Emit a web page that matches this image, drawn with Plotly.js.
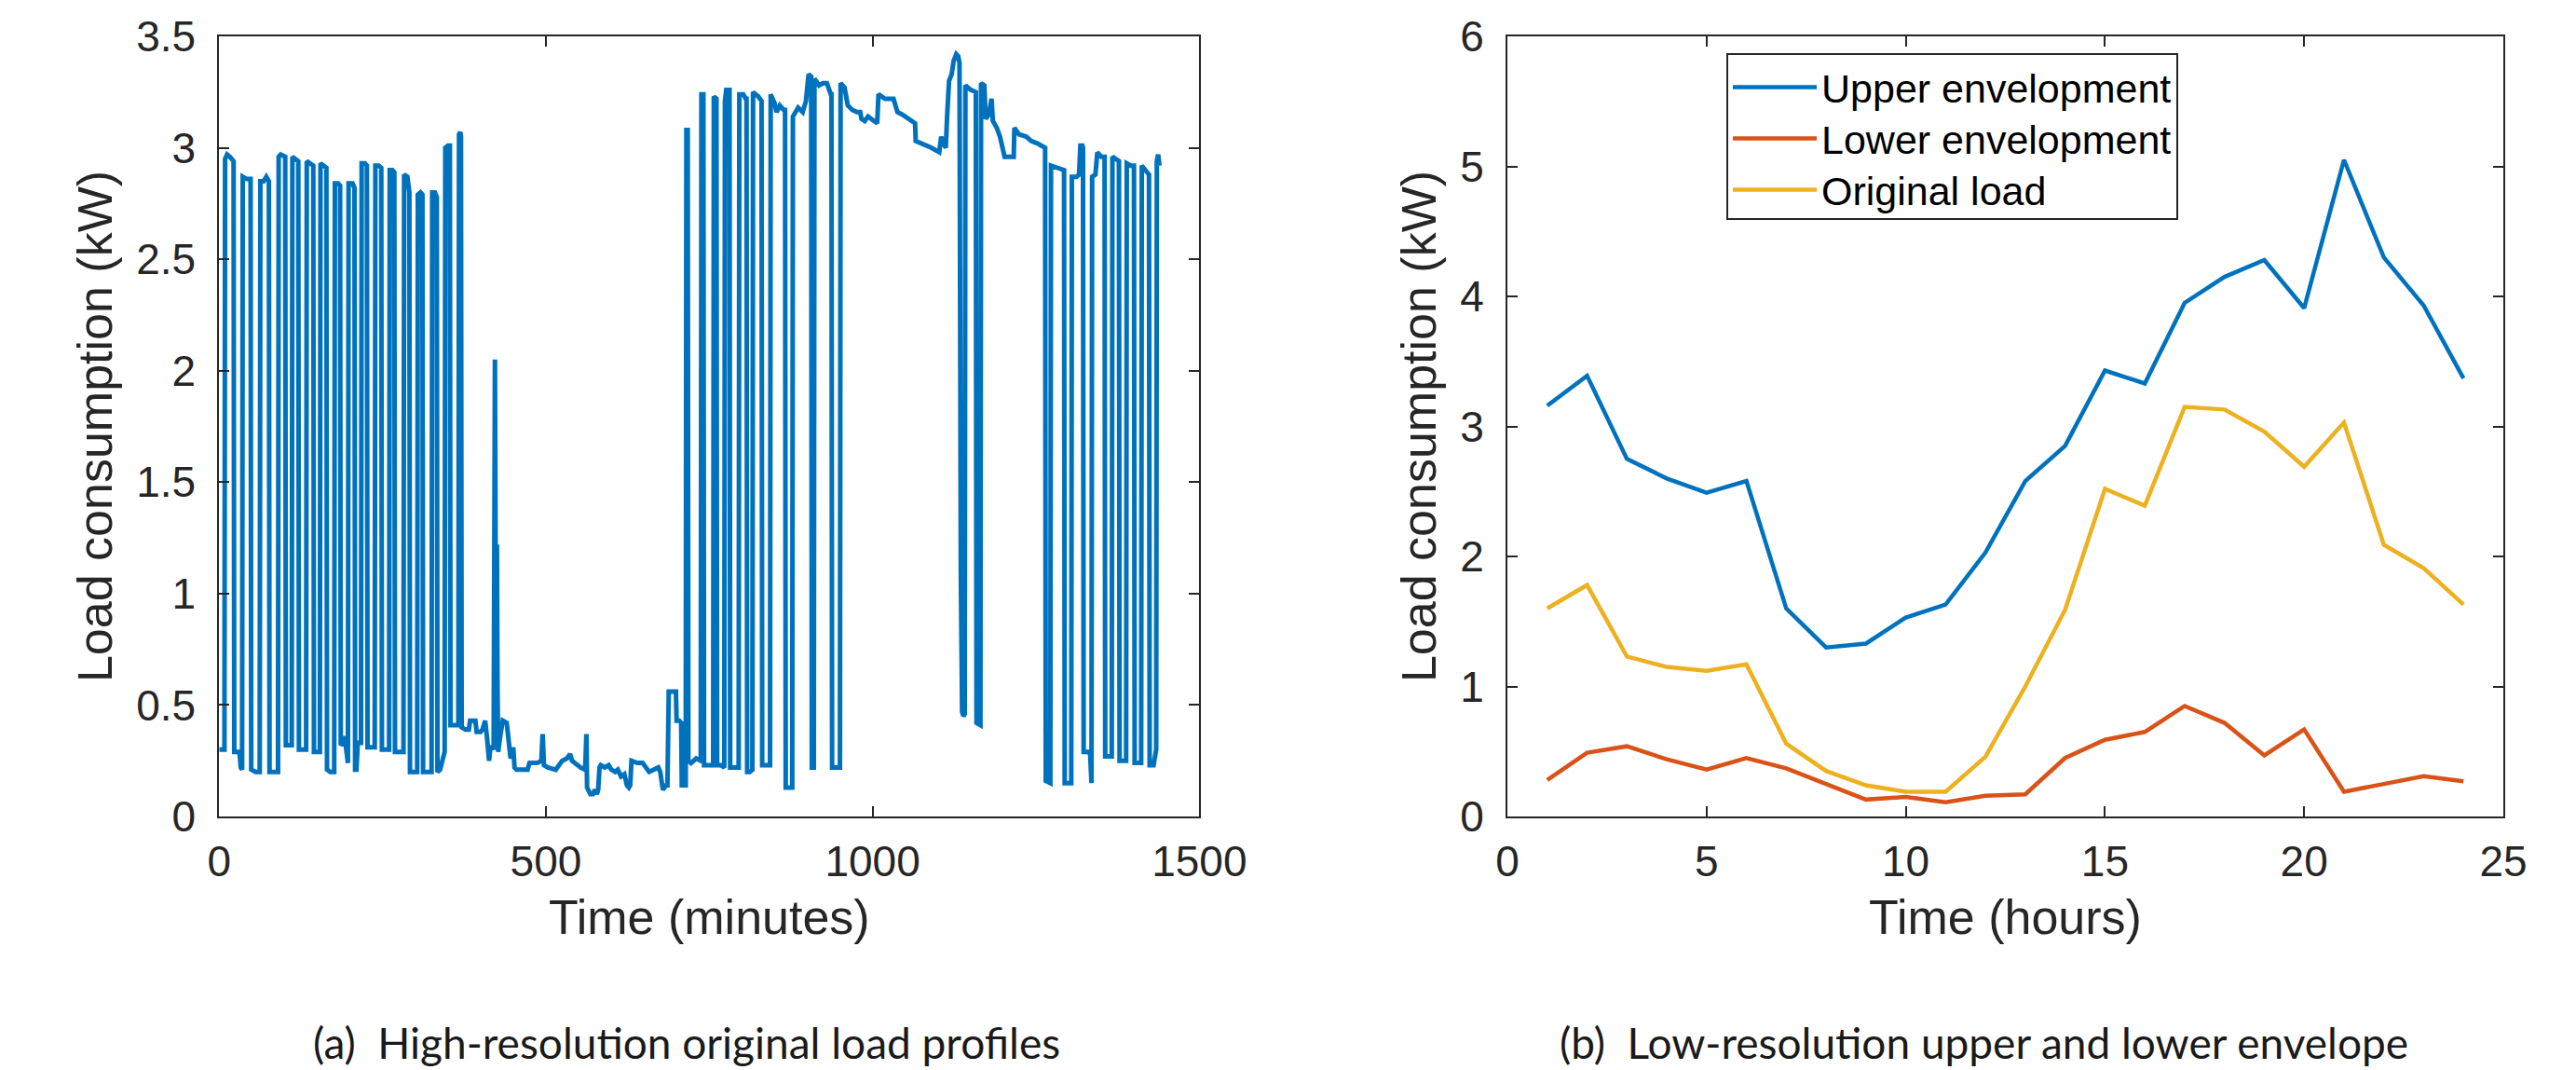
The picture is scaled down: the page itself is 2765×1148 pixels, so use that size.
<!DOCTYPE html>
<html>
<head>
<meta charset="utf-8">
<script src="https://cdn.plot.ly/plotly-3.0.1.min.js"></script>
<style>
  html, body { margin: 0; padding: 0; background: #ffffff; }
  #chart { width: 2765px; height: 1148px; }
</style>
</head>
<body>
<div id="chart"></div>
<script>
// ---------- (a) high-resolution load profile: minute / kW pairs ----------
const loadMinutes = [
  0, 8, 9, 12, 16, 22, 23, 31, 33, 35, 36, 42, 48, 49, 56, 62, 63, 68, 72, 76, 77, 84, 90, 91, 94, 101,
  102, 107, 111, 112, 118, 121, 122, 128, 133, 134, 140, 144, 145, 150, 154, 155, 160, 164, 165, 170, 176,
  177, 182, 185, 186, 190, 192, 194, 196, 197, 198, 204, 207, 208, 210, 212, 217, 218, 223, 226, 227, 233,
  238, 239, 244, 248, 249, 255, 260, 261, 265, 268, 269, 275, 282, 283, 288, 291, 292, 298, 303, 304, 308,
  311, 312, 318, 325, 326, 330, 333, 334, 338, 342, 345, 346, 350, 353, 354, 360, 366, 367, 369, 370, 371,
  377, 382, 384, 392, 394, 400, 403, 407, 410, 413, 415, 418, 420, 421, 422, 423, 425, 426, 427, 430, 434,
  440, 443, 446, 450, 452, 455, 463, 472, 475, 487, 493, 495, 497, 503, 515, 525, 532, 537, 540, 544, 553,
  560, 561, 562, 563, 565, 568, 572, 575, 578, 580, 582, 584, 590, 596, 600, 606, 610, 615, 620, 624, 627,
  629, 631, 640, 648, 652, 658, 665, 672, 675, 677, 679, 684, 686, 688, 696, 699, 700, 704, 707, 708, 712,
  714, 715, 717, 718, 722, 730, 737, 738, 741, 742, 750, 756, 757, 761, 762, 768, 773, 774, 776, 781, 782,
  786, 795, 796, 802, 806, 807, 808, 812, 816, 817, 825, 830, 831, 838, 843, 844, 850, 853, 858, 864, 866,
  867, 872, 877, 878, 886, 893, 898, 902, 906, 907, 910, 911, 918, 924, 930, 936, 937, 938, 944, 950, 951,
  957, 962, 969, 976, 981, 983, 988, 993, 998, 1007, 1009, 1019, 1032, 1038, 1045, 1050, 1057, 1065, 1066,
  1075, 1081, 1090, 1102, 1105, 1108, 1112, 1114, 1117, 1121, 1124, 1128, 1131, 1133, 1134, 1135, 1137,
  1139, 1141, 1142, 1150, 1157, 1158, 1159, 1165, 1166, 1171, 1173, 1178, 1182, 1184, 1190, 1195, 1202,
  1210, 1216, 1217, 1224, 1235, 1243, 1252, 1258, 1264, 1265, 1270, 1272, 1273, 1282, 1290, 1293, 1294,
  1300, 1304, 1305, 1312, 1316, 1318, 1321, 1322, 1323, 1330, 1333, 1335, 1336, 1341, 1344, 1350, 1355,
  1356, 1362, 1366, 1367, 1372, 1377, 1378, 1383, 1388, 1389, 1395, 1400, 1401, 1406, 1411, 1412, 1418,
  1423, 1424, 1430, 1434, 1435, 1437, 1439
];
const loadKW = [
  0.30, 0.30, 2.95, 2.97, 2.96, 2.94, 0.29, 0.29, 0.22, 0.21, 2.87, 2.86, 2.86, 0.21, 0.20, 0.20, 2.85, 2.85, 2.87, 2.85, 0.20, 0.20, 0.20, 2.96, 2.97, 2.96,
  0.32, 0.32, 0.32, 2.96, 2.95, 2.94, 0.30, 0.30, 0.30, 2.94, 2.93, 2.92, 0.29, 0.29, 0.29, 2.93, 2.92, 2.91, 0.21, 0.20, 0.20,
  2.84, 2.84, 2.83, 0.32, 0.33, 0.36, 0.30, 0.26, 0.24, 2.84, 2.84, 2.82, 0.21, 0.21, 0.33, 0.33, 2.93, 2.93, 2.92, 0.31, 0.31,
  0.31, 2.92, 2.92, 2.91, 0.30, 0.30, 0.30, 2.90, 2.90, 2.89, 0.29, 0.29, 0.29, 2.88, 2.87, 2.80, 0.20, 0.20, 0.20, 2.79, 2.80,
  2.79, 0.20, 0.20, 0.20, 2.80, 2.80, 2.78, 0.20, 0.21, 0.26, 0.29, 3.00, 3.01, 3.01, 0.41, 0.41, 0.41, 3.06, 3.07, 3.05, 0.40,
  0.39, 0.39, 0.43, 0.43, 0.38, 0.38, 0.39, 0.43, 0.35, 0.25, 0.31, 0.31, 0.30, 2.05, 2.05, 1.21, 1.21, 0.55, 0.29, 0.36, 0.43,
  0.42, 0.31, 0.26, 0.31, 0.22, 0.21, 0.21, 0.21, 0.24, 0.24, 0.25, 0.37, 0.23, 0.22, 0.21, 0.25, 0.26, 0.28, 0.25, 0.24, 0.22,
  0.21, 0.37, 0.37, 0.13, 0.12, 0.10, 0.10, 0.12, 0.10, 0.12, 0.22, 0.23, 0.22, 0.23, 0.21, 0.20, 0.21, 0.18, 0.19, 0.14, 0.13,
  0.14, 0.25, 0.24, 0.24, 0.22, 0.20, 0.21, 0.22, 0.20, 0.14, 0.12, 0.14, 0.14, 0.56, 0.56, 0.56, 0.43, 0.43, 0.42, 0.14, 0.14,
  0.14, 3.08, 3.08, 0.25, 0.24, 0.26, 0.25, 3.24, 3.24, 0.23, 0.23, 0.23, 3.23, 3.22, 0.23, 0.23, 0.22, 3.21, 3.26, 3.26, 0.22,
  0.22, 0.22, 3.24, 3.24, 3.22, 3.22, 0.20, 0.20, 0.21, 3.25, 3.23, 3.21, 0.23, 0.23, 0.23, 3.24, 3.20, 3.16, 3.19, 3.17, 3.17,
  0.13, 0.13, 0.13, 3.14, 3.18, 3.16, 3.21, 3.33, 3.32, 0.22, 0.22, 3.31, 3.28, 3.29, 3.29, 3.24, 3.24, 0.22, 0.22, 0.22, 3.29,
  3.27, 3.19, 3.17, 3.16, 3.16, 3.13, 3.12, 3.14, 3.13, 3.11, 3.24, 3.22, 3.22, 3.16, 3.15, 3.14, 3.12, 3.11, 3.03,
  3.02, 3.01, 3.00, 2.98, 3.05, 3.02, 3.00, 3.14, 3.30, 3.33, 3.39, 3.42, 3.41, 3.38, 1.13, 1.10, 0.47,
  0.45, 0.46, 3.28, 3.26, 3.25, 3.25, 0.42, 0.41, 3.29, 3.28, 3.13, 3.15, 3.22, 3.12, 3.09, 3.05, 2.96,
  2.96, 2.96, 3.09, 3.06, 3.05, 3.03, 3.02, 3.01, 3.00, 0.16, 0.15, 0.15, 2.92, 2.91, 2.90, 2.90, 0.15,
  0.15, 0.15, 2.87, 2.87, 2.88, 3.01, 3.01, 3.00, 0.29, 0.29, 0.28, 0.15, 2.87, 2.88, 2.98, 2.96, 2.96,
  0.27, 0.27, 0.27, 2.96, 2.95, 2.94, 0.25, 0.25, 0.25, 2.93, 2.92, 2.92, 0.24, 0.24, 0.24, 2.92, 2.90,
  2.88, 0.23, 0.23, 0.30, 2.94, 2.97, 2.92
];

// ---------- (b) hourly envelopes ----------
const hours = [1, 2, 3, 4, 5, 6, 7, 8, 9, 10, 11, 12, 13, 14, 15, 16, 17, 18, 19, 20, 21, 22, 23, 24];
const upperEnvelope = [3.16, 3.39, 2.75, 2.60, 2.49, 2.58, 1.60, 1.30, 1.33, 1.53, 1.63, 2.03, 2.58, 2.85, 3.43, 3.33, 3.95, 4.15, 4.28, 3.91, 5.05, 4.30, 3.93, 3.37];
const lowerEnvelope = [0.28, 0.49, 0.54, 0.44, 0.36, 0.45, 0.37, 0.25, 0.13, 0.15, 0.11, 0.16, 0.17, 0.45, 0.59, 0.65, 0.85, 0.72, 0.47, 0.67, 0.19, 0.25, 0.31, 0.27];
const originalLoad = [1.60, 1.78, 1.23, 1.15, 1.12, 1.17, 0.56, 0.35, 0.24, 0.19, 0.19, 0.46, 1.00, 1.59, 2.52, 2.39, 3.15, 3.13, 2.96, 2.69, 3.03, 2.09, 1.91, 1.63];

const seriesNames = ['Upper envelopment', 'Lower envelopment', 'Original load'];
const xTitleA = 'Time (minutes)';
const xTitleB = 'Time (hours)';
const yTitle = 'Load consumption (kW)';
const captionA = '(a)\u00a0\u00a0High-resolution original load profiles';
const captionB = '(b)\u00a0\u00a0Low-resolution upper and lower envelope';

// ---------- styling ----------
const W = 2765, H = 1148;
const AX = '#262626';
const FONT = 'Liberation Sans, Arial, Helvetica, sans-serif';
const TICK_SIZE = 46, TITLE_SIZE = 52;

function axisBase() {
  return {
    showline: true, linecolor: AX, linewidth: 2, mirror: 'ticks',
    ticks: 'inside', ticklen: 11, tickwidth: 2, tickcolor: AX,
    showgrid: false, zeroline: false, automargin: false,
    tickfont: { family: FONT, size: TICK_SIZE, color: AX }
  };
}

const traces = [
  { x: loadMinutes, y: loadKW, type: 'scatter', mode: 'lines', xaxis: 'x', yaxis: 'y',
    line: { color: '#0072BD', width: 5 }, showlegend: false, hoverinfo: 'x+y' },
  { x: hours, y: upperEnvelope, type: 'scatter', mode: 'lines', name: seriesNames[0], xaxis: 'x2', yaxis: 'y2',
    line: { color: '#0072BD', width: 4.5 } },
  { x: hours, y: lowerEnvelope, type: 'scatter', mode: 'lines', name: seriesNames[1], xaxis: 'x2', yaxis: 'y2',
    line: { color: '#D95319', width: 4.5 } },
  { x: hours, y: originalLoad, type: 'scatter', mode: 'lines', name: seriesNames[2], xaxis: 'x2', yaxis: 'y2',
    line: { color: '#EDB120', width: 4.5 } }
];

const yDom = [272 / H, 1109 / H];

const layout = {
  width: W, height: H,
  margin: { l: 0, r: 0, t: 0, b: 0, pad: 0 },
  paper_bgcolor: '#ffffff', plot_bgcolor: '#ffffff',
  font: { family: FONT, color: AX },
  showlegend: true,
  xaxis: Object.assign(axisBase(), {
    domain: [235.3 / W, 1287.3 / W], anchor: 'y', range: [0, 1500], tickvals: [0, 500, 1000, 1500],
    ticklabelstandoff: 7,
    title: { text: xTitleA, font: { family: FONT, size: TITLE_SIZE, color: AX }, standoff: 16 }
  }),
  yaxis: Object.assign(axisBase(), {
    domain: yDom, anchor: 'x', range: [0, 3.5], tickvals: [0, 0.5, 1, 1.5, 2, 2.5, 3, 3.5],
    ticktext: ['0', '0.5', '1', '1.5', '2', '2.5', '3', '3.5'],
    ticklabelstandoff: 14,
    title: { text: yTitle, font: { family: FONT, size: TITLE_SIZE, color: AX }, standoff: 9 }
  }),
  xaxis2: Object.assign(axisBase(), {
    domain: [1618 / W, 2687 / W], anchor: 'y2', range: [0, 25], tickvals: [0, 5, 10, 15, 20, 25],
    ticklabelstandoff: 7,
    title: { text: xTitleB, font: { family: FONT, size: TITLE_SIZE, color: AX }, standoff: 16 }
  }),
  yaxis2: Object.assign(axisBase(), {
    domain: yDom, anchor: 'x2', range: [0, 6], tickvals: [0, 1, 2, 3, 4, 5, 6],
    ticklabelstandoff: 14,
    title: { text: yTitle, font: { family: FONT, size: TITLE_SIZE, color: AX }, standoff: 9 }
  }),
  legend: {
    x: 1853 / W, y: 1 - 57 / H, xanchor: 'left', yanchor: 'top',
    bgcolor: '#ffffff', bordercolor: AX, borderwidth: 2,
    font: { family: FONT, size: 43, color: '#000000' },
    itemwidth: 90, tracegroupgap: 0
  },
  annotations: [
    { text: captionA, xref: 'paper', yref: 'paper', x: 737 / W, y: 1 - 1118 / H, xanchor: 'center', yanchor: 'middle',
      showarrow: false, font: { family: 'Lato, Noto Sans, sans-serif', size: 46, color: '#1a1a1a' } },
    { text: captionB, xref: 'paper', yref: 'paper', x: 2129 / W, y: 1 - 1118 / H, xanchor: 'center', yanchor: 'middle',
      showarrow: false, font: { family: 'Lato, Noto Sans, sans-serif', size: 46, color: '#1a1a1a' } }
  ]
};

// tighten the legend row spacing to the reference's (~55 px per entry)
function tightenLegend(gd) {
  const leg = gd.querySelector('g.legend');
  if (!leg) return;
  const items = Array.from(leg.querySelectorAll('g.traces'));
  if (items.length < 2) return;
  const parse = el => {
    const m = /translate\(\s*([-\d.]+)[ ,]+([-\d.]+)\s*\)/.exec(el.getAttribute('transform') || '');
    return m ? [parseFloat(m[1]), parseFloat(m[2])] : null;
  };
  const pos = items.map(parse);
  if (pos.some(p => !p)) return;
  const oldStep = pos[1][1] - pos[0][1];
  const step = 55;
  items.forEach((el, i) => el.setAttribute('transform', 'translate(' + pos[i][0] + ',' + (pos[0][1] + i * step) + ')'));
  const shrink = (oldStep - step) * items.length;
  leg.querySelectorAll('rect.bg').forEach(r => {
    const h = parseFloat(r.getAttribute('height'));
    if (!isNaN(h)) r.setAttribute('height', h - shrink);
  });
}

Plotly.newPlot('chart', traces, layout, { staticPlot: true, displayModeBar: false })
  .then(tightenLegend);
</script>
</body>
</html>
